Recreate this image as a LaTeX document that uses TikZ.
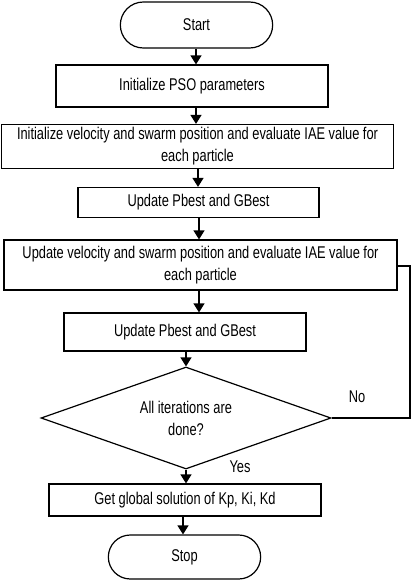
\documentclass[tikz,border=0pt]{standalone}
\usepackage{fontspec}
\setmainfont{Liberation Sans}[FakeStretch=0.755]
\usetikzlibrary{shapes.geometric, shapes.misc, arrows.meta}

\tikzset{
    box/.style={draw, line width=1.2pt, inner sep=2pt, align=center},
    term/.style={draw, line width=1.2pt, rounded rectangle, minimum width=159pt},
    decide/.style={draw, line width=1.2pt, diamond, aspect=2.84, inner sep=0pt, align=center},
    arr/.style={line width=1.2pt, -{Triangle[length=9pt, width=11pt]}}
}

\begin{document}
\begin{tikzpicture}[x=1pt, y=-1pt, font=\fontsize{17}{22}\selectfont]
\useasboundingbox (0,0) rectangle (412,584);

% steps
\node [term, minimum height=46pt] (start) at (196.5,25) {Start};
\node [box, minimum width=272pt, minimum height=42pt] (init) at (192,86) {Initialize PSO parameters};
\node [box, minimum width=392pt, minimum height=44pt] (initvel) at (197.5,146.5) {Initialize velocity and swarm position and evaluate IAE value for\\each particle};
\node [box, minimum width=241pt, minimum height=30pt] (upd1) at (198.5,202.5) {Update Pbest and GBest};
\node [box, minimum width=393pt, minimum height=50pt] (updvel) at (200.5,265) {Update velocity and swarm position and evaluate IAE value for\\each particle};
\node [box, minimum width=242pt, minimum height=38pt] (upd2) at (185,332) {Update Pbest and GBest};
\node [decide, minimum width=290pt, minimum height=102pt] (done) at (186,418) {All iterations are\\done?};
\node [box, minimum width=272pt, minimum height=32pt] (getsol) at (185,500) {Get global solution of Kp, Ki, Kd};
\node [term, minimum height=44pt] (stop) at (184.5,557) {Stop};

% labels
\node (no) at (357,397) {No};
\node (yes) at (240,467) {Yes};

% arrows
\draw [arr] (196,0 |- start.south) -- (196,0 |- init.north);
\draw [arr] (196,0 |- init.south) -- (196,0 |- initvel.north);
\draw [arr] (198,0 |- initvel.south) -- (198,0 |- upd1.north);
\draw [arr] (199,0 |- upd1.south) -- (199,0 |- updvel.north);
\draw [arr] (199,0 |- updvel.south) -- (199,0 |- upd2.north);
\draw [arr] (186,0 |- upd2.south) -- (done.north);
\draw [arr] (done.south) -- (done.south |- getsol.north);
\draw [arr] (183,0 |- getsol.south) -- (183,0 |- stop.north);

% loop back
\coordinate (back) at (410,266);
\draw [line width=1.2pt] (done.east) -- (done.east -| back) -- (back) -- (updvel.east |- back);

\end{tikzpicture}
\end{document}
